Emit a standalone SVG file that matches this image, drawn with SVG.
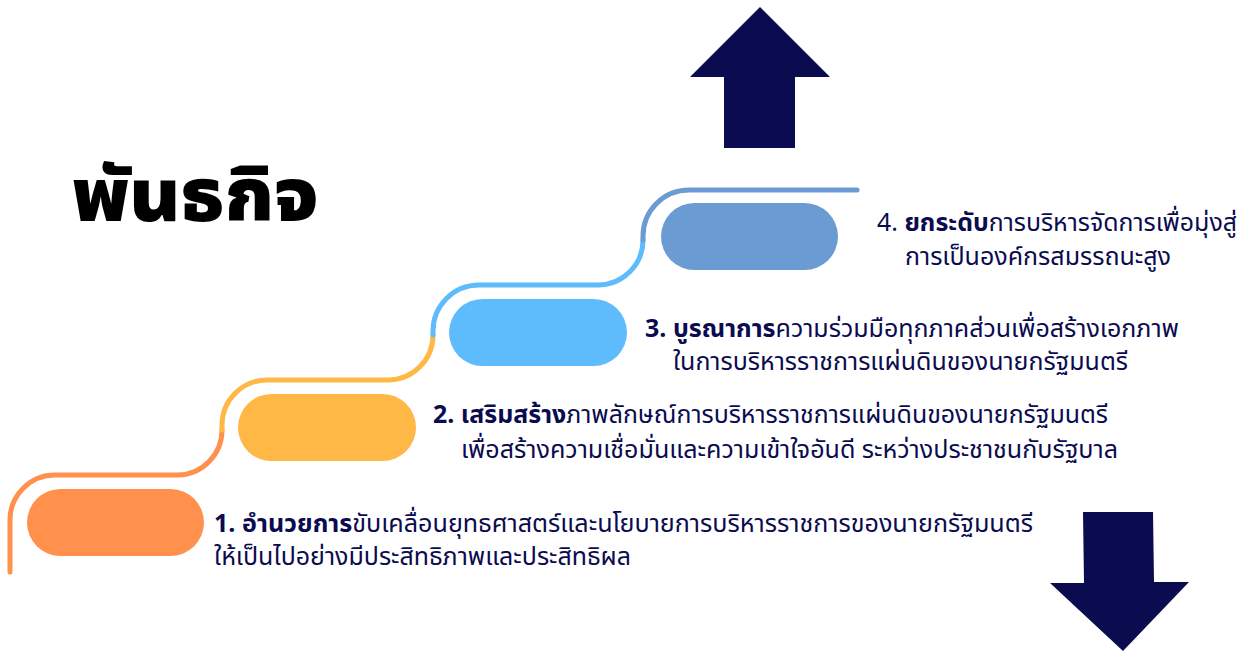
<svg xmlns="http://www.w3.org/2000/svg" width="1251" height="651" viewBox="0 0 1251 651">
<style>
.t{font-family:"Noto Sans Thai","Noto Sans","Loma",sans-serif;font-size:25px;fill:#0b0b4f}
.b{font-weight:bold}
.ln{fill:none;stroke-width:5;stroke-linecap:round}
.arrow{fill:#0b0b4f}
</style>
<rect width="1251" height="651" fill="#ffffff"/>
<text x="72" y="221" textLength="246" lengthAdjust="spacingAndGlyphs" font-family="'Noto Sans Thai','Noto Sans',sans-serif" font-size="74" font-weight="900" fill="#000">พันธกิจ</text>
<g id="connectors">
<path class="ln" stroke="#ff914d" d="M10,572 V520 A45,45 0 0 1 55,475 H178 A45,45 0 0 0 222,430"/>
<path class="ln" stroke="#ffb845" d="M222,430 V425 A45,45 0 0 1 267,380 H388 A45,45 0 0 0 433,335"/>
<path class="ln" stroke="#5ebcfd" d="M433,335 V331 A46,46 0 0 1 479,285 H598 A45,45 0 0 0 643,240"/>
<path class="ln" stroke="#6a9bd3" d="M643,240 V236 A46,46 0 0 1 689,190 H857"/>
</g>
<g id="step1">
<rect x="27" y="489" width="177" height="67" rx="33.5" fill="#ff914d"/>
<text class="t" x="214" y="532" textLength="819" lengthAdjust="spacingAndGlyphs"><tspan class="b">1. อำนวยการ</tspan>ขับเคลื่อนยุทธศาสตร์และนโยบายการบริหารราชการของนายกรัฐมนตรี</text>
<text class="t" x="214" y="565" textLength="417" lengthAdjust="spacingAndGlyphs">ให้เป็นไปอย่างมีประสิทธิภาพและประสิทธิผล</text>
</g>
<g id="step2">
<rect x="238" y="394" width="178" height="67" rx="33.5" fill="#ffb845"/>
<text class="t" x="433" y="423" textLength="675" lengthAdjust="spacingAndGlyphs"><tspan class="b">2. เสริมสร้าง</tspan>ภาพลักษณ์การบริหารราชการแผ่นดินของนายกรัฐมนตรี</text>
<text class="t" x="461" y="458" textLength="657" lengthAdjust="spacingAndGlyphs">เพื่อสร้างความเชื่อมั่นและความเข้าใจอันดี ระหว่างประชาชนกับรัฐบาล</text>
</g>
<g id="step3">
<rect x="449" y="299" width="178" height="67" rx="33.5" fill="#5ebcfd"/>
<text class="t" x="645" y="337" textLength="534" lengthAdjust="spacingAndGlyphs"><tspan class="b">3. บูรณาการ</tspan>ความร่วมมือทุกภาคส่วนเพื่อสร้างเอกภาพ</text>
<text class="t" x="673" y="370" textLength="455" lengthAdjust="spacingAndGlyphs">ในการบริหารราชการแผ่นดินของนายกรัฐมนตรี</text>
</g>
<g id="step4">
<rect x="661" y="203" width="177" height="67" rx="33.5" fill="#6a9bd3"/>
<text class="t" x="877" y="231" textLength="360" lengthAdjust="spacingAndGlyphs">4. <tspan class="b">ยกระดับ</tspan>การบริหารจัดการเพื่อมุ่งสู่</text>
<text class="t" x="905" y="265" textLength="266" lengthAdjust="spacingAndGlyphs">การเป็นองค์กรสมรรถนะสูง</text>
</g>
<g id="arrow-up">
<polygon class="arrow" points="760,7 830,77 795,77 795,148 724,148 724,77 690,77"/>
</g>
<g id="arrow-down">
<polygon class="arrow" points="1083,512 1153,512 1154,582 1189,582 1123,651 1050,583 1084,583"/>
</g>
</svg>
